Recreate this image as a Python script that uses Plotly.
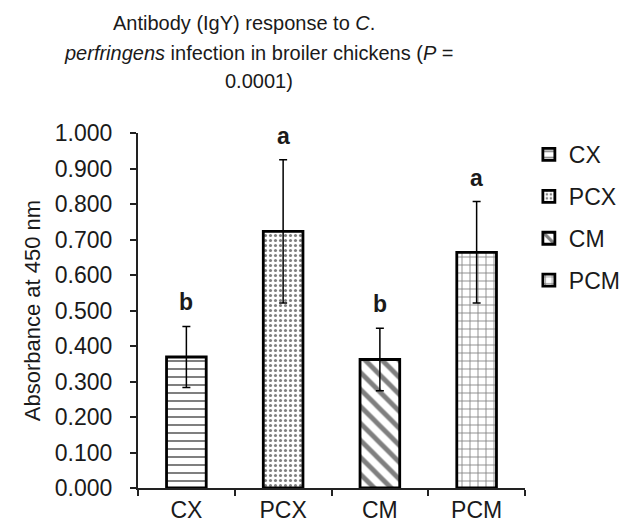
import plotly.graph_objects as go

categories = ["CX", "PCX", "CM", "PCM"]
means = [0.369, 0.723, 0.362, 0.664]
errors = [0.086, 0.202, 0.088, 0.143]
letters = ["b", "a", "b", "a"]
ytick_vals = [0.0, 0.1, 0.2, 0.3, 0.4, 0.5, 0.6, 0.7, 0.8, 0.9, 1.0]
ytick_text = ["0.000", "0.100", "0.200", "0.300", "0.400", "0.500", "0.600",
              "0.700", "0.800", "0.900", "1.000"]
title_lines = ["Antibody (IgY) response to <i>C</i>.",
               "<i>perfringens</i> infection in broiler chickens (<i>P</i> =",
               "0.0001)"]

pattern_styles = {
    "CX": dict(shape="-", size=8, solidity=0.25),
    "PCX": dict(shape=".", size=5, solidity=0.3),
    "CM": dict(shape="\\", size=12, solidity=0.4),
    "PCM": dict(shape="+", size=8, solidity=0.2),
}

TXT = "#1a1a1a"
fig = go.Figure()
for i, cat in enumerate(categories):
    ps = pattern_styles[cat]
    fig.add_trace(go.Bar(
        x=[cat], y=[means[i]], name=cat, width=0.41,
        legendgroup=cat,
        marker=dict(color="white", line=dict(color="black", width=2.8),
                    pattern=dict(shape=ps["shape"], fgcolor="black", bgcolor="white",
                                 size=ps["size"], solidity=ps["solidity"])),
        error_y=dict(type="data", array=[errors[i]], visible=True,
                     color="black", thickness=1.5, width=4),
    ))

for i, cat in enumerate(categories):
    fig.add_annotation(x=cat, y=means[i] + errors[i], text="<b>" + letters[i] + "</b>",
                       showarrow=False, yshift=24, font=dict(size=23, color=TXT))

# title lines (pixel rows converted to paper coords)
plot_top_px, plot_bot_px = 125.0, 482.7
plot_left_px, plot_right_px = 130.0, 550.0
line_centers_px = [(245, 14), (261, 44), (261, 73)]
for (cx, cy), txt in zip(line_centers_px, title_lines):
    fig.add_annotation(
        xref="paper", yref="paper",
        x=(cx - plot_left_px) / (plot_right_px - plot_left_px),
        y=(plot_bot_px - cy) / (plot_bot_px - plot_top_px),
        xanchor="center", yanchor="middle", showarrow=False,
        text=txt, font=dict(size=20, color=TXT))

fig.update_layout(
    width=630, height=527,
    paper_bgcolor="white", plot_bgcolor="white",
    font=dict(family="Liberation Sans, Arial", color=TXT, size=23),
    barmode="overlay",
    margin=dict(l=130, r=80, t=125, b=44),
    legend=dict(x=1.01, y=1.0, xanchor="left", yanchor="top",
                font=dict(size=23, color=TXT), tracegroupgap=9,
                itemwidth=30, bgcolor="rgba(0,0,0,0)"),
    showlegend=True,
)
fig.update_xaxes(showline=True, linecolor="#222", linewidth=2, ticks="outside",
                 tickson="boundaries", ticklen=6, tickwidth=2, tickcolor="#222",
                 tickfont=dict(size=23, color=TXT), range=[-0.5, 3.5])
fig.update_yaxes(showline=True, linecolor="#222", linewidth=2, ticks="outside",
                 ticklen=6, tickwidth=2, tickcolor="#222", showgrid=False,
                 range=[0, 1.0], tickvals=ytick_vals, ticktext=ytick_text,
                 tickfont=dict(size=23, color=TXT), ticklabelstandoff=13,
                 title=dict(text="Absorbance at 450 nm", font=dict(size=22, color=TXT), standoff=8),
                 zeroline=False)

fig.write_html("out.html")
